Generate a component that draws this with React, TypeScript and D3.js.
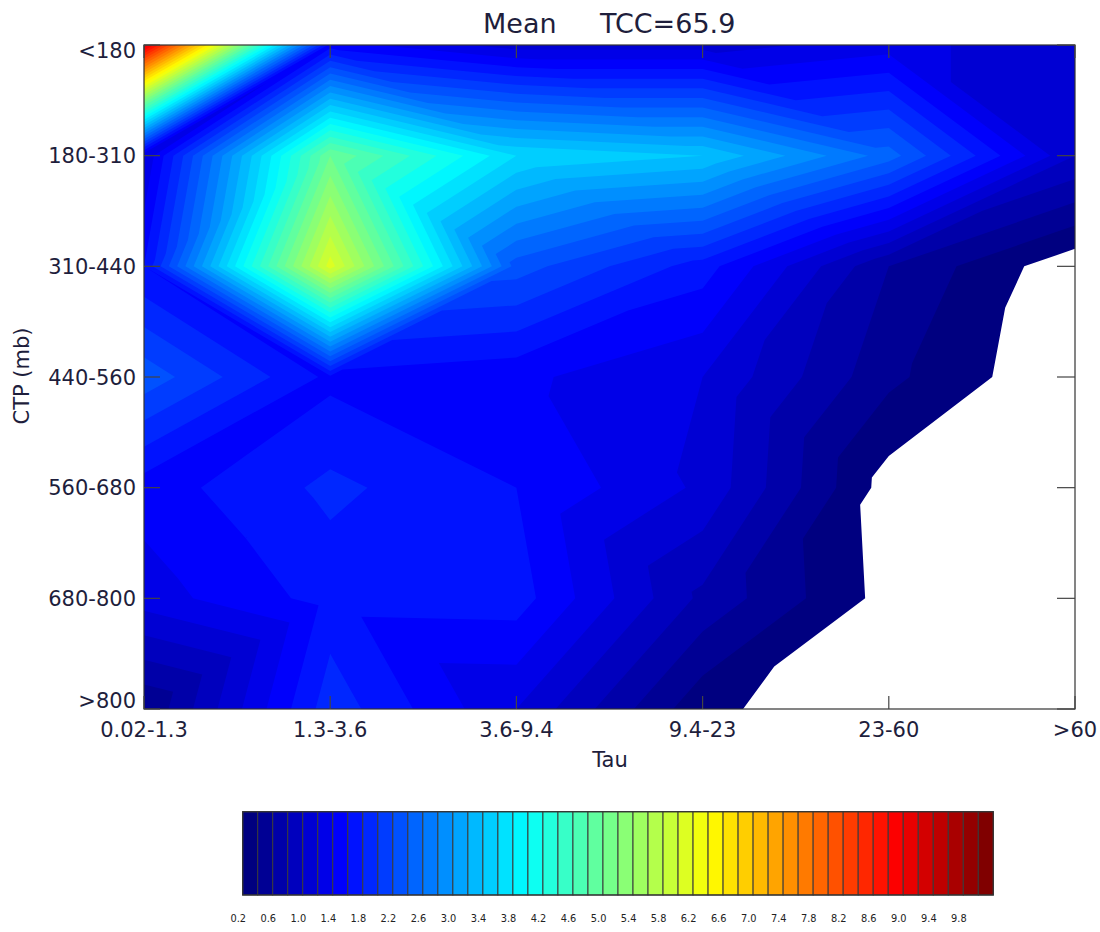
import React, { useMemo } from "react";
import * as d3 from "d3";

// ---- data ----
const tauLabels = ["0.02-1.3", "1.3-3.6", "3.6-9.4", "9.4-23", "23-60", ">60"];
const ctpLabels = ["<180", "180-310", "310-440", "440-560", "560-680", "680-800", ">800"];

const rowLt180 = [9.2, 1.5, 1.1, 1.1, 1.3, 1.0];
const row180_310 = [1.2, 5.0, 3.6, 3.4, 2.5, 1.0];
const row310_440 = [1.6, 6.1, 2.3, 1.7, 0.6, 0.05];
const row440_560 = [2.33, 1.55, 1.45, 1.2, 0.45, 0.0];
const row560_680 = [1.49, 1.85, 1.6, 1.16, 0.1, 0.0];
const row680_800 = [1.3, 1.68, 1.7, 0.75, 0.12, 0.0];
const rowGt800 = [0.4, 1.92, 1.2, 0.25, 0.02, 0.0];

const levelLows = d3.range(50).map((i) => Math.round((0.2 + 0.2 * i) * 10) / 10);
const colorbarLabels = d3.range(25).map((i) => (0.2 + 0.4 * i).toFixed(1));

const titleLeft = "Mean";
const titleRight = "TCC=65.9";

// ---- helpers ----
const clamp = (v: number) => Math.max(0, Math.min(1, v));
function jet(t: number) {
  const r = clamp(1.5 - Math.abs(4 * t - 3));
  const g = clamp(1.5 - Math.abs(4 * t - 2));
  const b = clamp(1.5 - Math.abs(4 * t - 1));
  return d3.rgb(r * 255, g * 255, b * 255).formatHex();
}

type P = { x: number; y: number; v: number };

function clipAbove(poly: P[], level: number): P[] {
  const out: P[] = [];
  const n = poly.length;
  for (let i = 0; i < n; i++) {
    const p = poly[i];
    const q = poly[(i + 1) % n];
    const pin = p.v >= level;
    const qin = q.v >= level;
    if (pin) out.push(p);
    if (pin !== qin) {
      const t = (level - p.v) / (q.v - p.v);
      out.push({ x: p.x + t * (q.x - p.x), y: p.y + t * (q.y - p.y), v: level });
    }
  }
  return out;
}

const TEXT = "#1e1e3c";
const FONT = "DejaVu Sans, Verdana, sans-serif";

export default function App() {
  const grid = [rowLt180, row180_310, row310_440, row440_560, row560_680, row680_800, rowGt800];

  const x = d3.scalePoint<string>().domain(tauLabels).range([144, 1075]).padding(0);
  const y = d3.scalePoint<string>().domain(ctpLabels).range([45, 709]).padding(0);

  const cbX = d3
    .scaleBand<number>()
    .domain(d3.range(levelLows.length))
    .range([242.7, 993.3])
    .paddingInner(0)
    .paddingOuter(0);
  const cbTop = 811.7;
  const cbBottom = 895;

  const layers = useMemo(() => {
    const pt = (r: number, c: number): P => ({
      x: x(tauLabels[c]) as number,
      y: y(ctpLabels[r]) as number,
      v: grid[r][c],
    });
    const tris: P[][] = [];
    for (let r = 0; r < ctpLabels.length - 1; r++) {
      for (let c = 0; c < tauLabels.length - 1; c++) {
        const A = pt(r, c), B = pt(r, c + 1), C = pt(r + 1, c), D = pt(r + 1, c + 1);
        // split along the diagonal joining the two lower corners
        if (B.v + C.v <= A.v + D.v) {
          tris.push([A, B, C]);
          tris.push([B, D, C]);
        } else {
          tris.push([A, B, D]);
          tris.push([A, D, C]);
        }
      }
    }
    const line = d3.line<P>().x((q) => q.x).y((q) => q.y);
    return levelLows.map((lo, k) => {
      let d = "";
      tris.forEach((tri) => {
        const p = clipAbove(tri, lo);
        if (p.length >= 3) d += (line(p) as string) + "Z";
      });
      return { d, color: jet(k / (levelLows.length - 1)) };
    });
  }, []);

  const yLabelPos = (lab: string, i: number) => {
    const base = y(lab) as number;
    if (i === 0) return base + 5.5;
    if (i === ctpLabels.length - 1) return base - 8.5;
    return base;
  };

  return (
    <svg
      width={1100}
      height={932}
      style={{ position: "absolute", left: 0, top: 0, background: "#fff" }}
      fontFamily={FONT}
    >
      <rect x={0} y={0} width={1100} height={932} fill="#fff" />
      {/* filled contours (cumulative layers) */}
      <g>
        {layers.map((p, i) =>
          p.d ? <path key={i} d={p.d} fill={p.color} stroke="none" /> : null
        )}
      </g>
      {/* frame */}
      <rect x={144} y={45} width={931} height={664} fill="none" stroke="#333" strokeWidth={1.2} />
      {/* ticks */}
      <g stroke="#444" strokeWidth={1.2}>
        {ctpLabels.map((lab) => (
          <g key={lab}>
            <line x1={144} x2={160} y1={y(lab)} y2={y(lab)} />
            <line x1={1075} x2={1057} y1={y(lab)} y2={y(lab)} />
          </g>
        ))}
        {tauLabels.map((lab) => (
          <g key={lab}>
            <line x1={x(lab)} x2={x(lab)} y1={709} y2={696} />
            <line x1={x(lab)} x2={x(lab)} y1={45} y2={58} />
          </g>
        ))}
      </g>
      {/* tick labels */}
      <g fill={TEXT} fontSize={21}>
        {ctpLabels.map((lab, i) => (
          <text key={lab} x={136} y={yLabelPos(lab, i)} dy="0.36em" textAnchor="end">
            {lab}
          </text>
        ))}
        {tauLabels.map((lab) => (
          <text key={lab} x={x(lab)} y={737} textAnchor="middle">
            {lab}
          </text>
        ))}
        <text x={610} y={767} textAnchor="middle">Tau</text>
        <text transform="translate(29,376) rotate(-90)" textAnchor="middle">CTP (mb)</text>
      </g>
      {/* title */}
      <g fill={TEXT} fontSize={27}>
        <text x={483} y={33}>{titleLeft}</text>
        <text x={600} y={33}>{titleRight}</text>
      </g>
      {/* colorbar */}
      <g>
        {levelLows.map((lo, k) => (
          <rect
            key={k}
            x={cbX(k)}
            y={cbTop}
            width={cbX.bandwidth()}
            height={cbBottom - cbTop}
            fill={jet(k / (levelLows.length - 1))}
            stroke="#3a3a3a"
            strokeWidth={1}
          />
        ))}
        <rect
          x={242.7}
          y={cbTop}
          width={993.3 - 242.7}
          height={cbBottom - cbTop}
          fill="none"
          stroke="#333"
          strokeWidth={1.2}
        />
      </g>
      <g fill="#222" fontSize={9.8}>
        {colorbarLabels.map((lab, i) => (
          <text key={lab} x={(cbX(2 * i) as number) - 4.4} y={921.5} textAnchor="middle">
            {lab}
          </text>
        ))}
      </g>
    </svg>
  );
}
